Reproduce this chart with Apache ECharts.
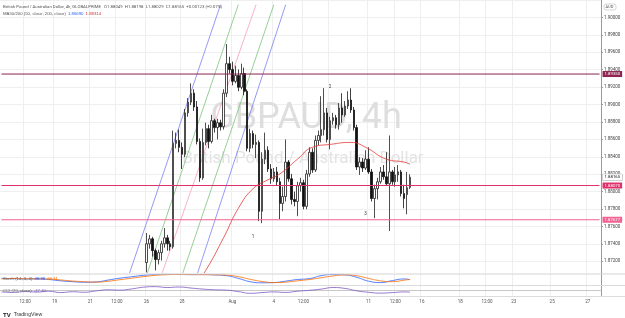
<!DOCTYPE html>
<html>
<head>
<meta charset="utf-8">
<script src="https://cdn.jsdelivr.net/npm/echarts@6/dist/echarts.min.js"></script>
<style>
  html, body { margin: 0; padding: 0; background: #fff; }
  #chart { width: 625px; height: 318px; }
</style>
</head>
<body>
<div id="chart"></div>
<script>
const barCount = 203;
const firstBar = 49;

// [open, close, low, high]
const candles = [
  [1.87186, 1.87401, 1.87073, 1.87525], [1.87401, 1.87458, 1.87345, 1.87503],
  [1.87458, 1.87322, 1.87254, 1.87480], [1.87322, 1.87220, 1.87096, 1.87345],
  [1.87220, 1.87299, 1.87164, 1.87333], [1.87299, 1.87401, 1.87209, 1.87435],
  [1.87401, 1.87469, 1.87356, 1.87582], [1.87469, 1.87401, 1.87322, 1.87503],
  [1.87401, 1.87367, 1.87322, 1.87435], [1.87367, 1.88554, 1.87345, 1.88701],
  [1.88554, 1.88588, 1.88497, 1.88678], [1.88588, 1.88509, 1.88452, 1.88712],
  [1.88509, 1.88429, 1.88260, 1.88565], [1.88429, 1.88904, 1.88396, 1.88949],
  [1.88904, 1.89028, 1.88859, 1.89074], [1.89028, 1.89130, 1.88994, 1.89243],
  [1.89130, 1.88972, 1.88927, 1.89175], [1.88972, 1.88576, 1.88542, 1.89040],
  [1.88576, 1.88158, 1.88113, 1.88610], [1.88158, 1.88565, 1.88136, 1.88723],
  [1.88565, 1.88723, 1.88531, 1.88791], [1.88723, 1.88576, 1.88497, 1.88768],
  [1.88576, 1.88814, 1.88554, 1.88881], [1.88814, 1.88735, 1.88678, 1.88836],
  [1.88735, 1.88791, 1.88599, 1.88836], [1.88791, 1.88746, 1.88701, 1.88825],
  [1.88746, 1.89130, 1.88712, 1.89175], [1.89130, 1.89469, 1.89085, 1.89695],
  [1.89469, 1.89401, 1.89356, 1.89548], [1.89401, 1.89266, 1.89220, 1.89492],
  [1.89266, 1.89333, 1.89243, 1.89446], [1.89333, 1.89198, 1.89153, 1.89401],
  [1.89198, 1.89356, 1.89175, 1.89469], [1.89356, 1.89153, 1.89107, 1.89424],
  [1.89153, 1.88497, 1.88463, 1.89175], [1.88497, 1.88667, 1.88452, 1.88723],
  [1.88667, 1.88542, 1.88497, 1.88701], [1.88542, 1.88565, 1.88384, 1.88655],
  [1.88565, 1.87774, 1.87661, 1.88588], [1.87774, 1.88373, 1.87638, 1.88452],
  [1.88373, 1.88475, 1.88316, 1.88678], [1.88475, 1.88260, 1.88226, 1.88520],
  [1.88260, 1.88147, 1.88090, 1.88316], [1.88147, 1.88226, 1.88113, 1.88271],
  [1.88226, 1.88113, 1.88068, 1.88283], [1.88113, 1.87864, 1.87684, 1.88158],
  [1.87864, 1.87944, 1.87774, 1.88057], [1.87944, 1.88339, 1.87887, 1.88599],
  [1.88339, 1.88147, 1.88113, 1.88362], [1.88147, 1.87910, 1.87853, 1.88203],
  [1.87910, 1.87887, 1.87831, 1.88000], [1.87887, 1.88068, 1.87718, 1.88113],
  [1.88068, 1.88102, 1.88000, 1.88158], [1.88102, 1.87831, 1.87797, 1.88136],
  [1.87831, 1.88203, 1.87797, 1.88249], [1.88203, 1.88452, 1.88170, 1.88509],
  [1.88452, 1.88249, 1.88215, 1.88497], [1.88249, 1.88588, 1.88226, 1.88644],
  [1.88588, 1.88644, 1.88531, 1.88701], [1.88644, 1.88712, 1.88565, 1.89096],
  [1.88712, 1.88904, 1.88644, 1.89187], [1.88904, 1.88599, 1.88565, 1.88961],
  [1.88599, 1.88814, 1.88486, 1.88859], [1.88814, 1.88848, 1.88768, 1.88904],
  [1.88848, 1.88768, 1.88723, 1.88881], [1.88768, 1.88961, 1.88712, 1.89017],
  [1.88961, 1.88881, 1.88791, 1.89130], [1.88881, 1.88983, 1.88859, 1.89040],
  [1.88983, 1.89051, 1.88949, 1.89153], [1.89051, 1.88938, 1.88904, 1.89187],
  [1.88938, 1.88735, 1.88701, 1.88972], [1.88735, 1.88283, 1.88249, 1.88768],
  [1.88283, 1.88339, 1.88192, 1.88396], [1.88339, 1.88271, 1.88226, 1.88384],
  [1.88271, 1.88373, 1.88249, 1.88475], [1.88373, 1.88226, 1.88203, 1.88509],
  [1.88226, 1.87921, 1.87887, 1.88260], [1.87921, 1.88034, 1.87695, 1.88079],
  [1.88034, 1.88113, 1.87910, 1.88158], [1.88113, 1.88226, 1.88090, 1.88283],
  [1.88226, 1.88170, 1.88136, 1.88305], [1.88170, 1.88090, 1.88068, 1.88452],
  [1.88090, 1.88226, 1.87548, 1.88644], [1.88226, 1.88113, 1.88079, 1.88249],
  [1.88113, 1.88192, 1.88057, 1.88283], [1.88192, 1.88226, 1.88113, 1.88305],
  [1.88226, 1.87977, 1.87944, 1.88249], [1.87977, 1.87921, 1.87808, 1.88079],
  [1.87966, 1.88045, 1.87740, 1.88226], [1.88049, 1.88165, 1.88029, 1.88198]
];

// MA50 read at a few bars: [bar, value]
const ma50 = [
  [64, 1.8685], [69, 1.87096], [75, 1.87469], [80, 1.87808], [85, 1.88034],
  [90, 1.88136], [94, 1.88203], [100, 1.88373], [105, 1.88509], [111, 1.88542],
  [118, 1.88565], [123, 1.88509], [130, 1.88373], [136, 1.88339], [138, 1.88314]
];

// drawn channel lines: [[bar, price], [bar, price]]
const trendLines = [
  { color: '#7c7ff2', pts: [[42.7, 1.87040], [73.8, 1.90147]] },
  { color: '#7cc47f', pts: [[48.8, 1.87040], [79.9, 1.90147]] },
  { color: '#f5a0bd', pts: [[53.5, 1.87040], [86.3, 1.90147]] },
  { color: '#7cc47f', pts: [[61.3, 1.87040], [92.4, 1.90147]] },
  { color: '#7c7ff2', pts: [[66.0, 1.87040], [96.4, 1.90147]] }
];

// horizontal levels
const levelValues = [1.89350, 1.88070, 1.87677];
const levelColors = ['#8e2451', '#e0306a', '#f06292'];
const lastPrice = 1.88165;

// wave count labels: [bar, price]
const waveMarks = [
  { name: '1', coord: [85, 1.87480] },
  { name: '2', coord: [111, 1.89198] },
  { name: '3', coord: [123, 1.87740] }
];

// Stochastic %K / %D and CCI at every 4th bar: [bar, value]
const stochK = [
  [0, 60], [4, 58], [8, 55], [12, 57], [16, 50], [20, 38], [24, 30], [28, 25], [32, 28],
  [36, 45], [40, 62], [44, 75], [48, 88], [52, 95], [56, 97], [60, 96], [64, 94], [68, 95],
  [72, 92], [76, 85], [80, 60], [84, 30], [88, 20], [92, 22], [96, 35], [100, 50], [104, 58],
  [108, 85], [112, 95], [116, 92], [120, 70], [124, 35], [128, 22], [132, 40], [136, 55], [138, 48.88]
];
const stochD = [
  [0, 55], [4, 60], [8, 57], [12, 55], [16, 55], [20, 46], [24, 36], [28, 30], [32, 26],
  [36, 34], [40, 48], [44, 62], [48, 76], [52, 88], [56, 94], [60, 96], [64, 95], [68, 94],
  [72, 93], [76, 90], [80, 76], [84, 52], [88, 32], [92, 22], [96, 26], [100, 38], [104, 50],
  [108, 66], [112, 82], [116, 92], [120, 84], [124, 60], [128, 38], [132, 30], [136, 44], [138, 50.11]
];
const cci = [
  [0, -40], [4, -55], [8, -30], [12, -45], [16, -20], [20, -60], [24, -35], [28, -50], [32, -10],
  [36, 20], [40, 10], [44, 45], [48, 95], [52, 110], [56, 85], [60, 100], [64, 70], [68, 40],
  [72, 20], [76, 10], [80, -30], [84, -80], [88, -60], [92, -40], [96, -55], [100, -20], [104, 5],
  [108, 40], [112, 85], [116, 60], [120, -10], [124, -50], [128, -75], [132, -60], [136, -40], [138, -47.4]
];

// time axis labels
const labelBars = [8, 18, 30, 39, 49, 61, 78, 92, 102, 111, 124, 133, 142, 155, 164, 173, 186, 198];
const labelText = ['12:00', '19', '21', '12:00', '26', '28', 'Aug', '4', '12:00', '9', '11', '12:00', '16', '18', '12:00', '23', '25', '27'];

const slots = Array.from({ length: barCount }, (_, i) => String(i));
const candleData = slots.map((_, i) => {
  const c = candles[i - firstBar];
  return c ? c : '-';
});
const isLabel = (i) => labelBars.indexOf(i) >= 0;

const font = 'Roboto, "DejaVu Sans", sans-serif';
const gridColor = '#efefef';
const plotRight = 601;

const chart = echarts.init(document.getElementById('chart'), null, { renderer: 'canvas' });

const paneX = (gi, showLabels) => ({
  type: 'category', gridIndex: gi, data: slots, boundaryGap: true, z: 60,
  axisLine: { show: showLabels, lineStyle: { color: '#c8c8c8', width: 1 } },
  axisTick: { show: false },
  axisLabel: {
    show: showLabels, interval: (i) => isLabel(i), margin: 3,
    fontSize: 4.5, color: '#555', fontFamily: font,
    formatter: (v) => labelText[labelBars.indexOf(Number(v))] || ''
  },
  splitLine: { show: true, interval: (i) => isLabel(i), lineStyle: { color: gridColor, width: 1 } }
});

const priceTag = (value, bg, fg, border) => ({
  show: true, distance: 3, formatter: value.toFixed(5),
  backgroundColor: bg, color: fg, borderColor: border || bg, borderWidth: border ? 0.5 : 0,
  fontSize: 4.3, fontFamily: font, padding: [1, 2, 1, 2]
});

// a flat line across the whole plot carrying a price tag on the axis
const levelSeries = (value, color) => ({
  type: 'line', xAxisIndex: 0, yAxisIndex: 0, symbol: 'none', z: 5, clip: false, silent: true,
  data: [[0, value], [barCount - 1, value]],
  lineStyle: { color: color, width: 1 },
  itemStyle: { color: color },
  endLabel: priceTag(value, color, '#fff')
});

chart.setOption({
  animation: false,
  backgroundColor: '#ffffff',
  grid: [
    { left: 0, right: 625 - plotRight, top: -4.714, height: 283.43 },
    { left: 0, right: 625 - plotRight, top: 274, height: 11 },
    { left: 0, right: 625 - plotRight, top: 285, height: 11 }
  ],
  xAxis: [
    Object.assign(paneX(0, false), { z: 0 }),
    paneX(1, false),
    paneX(2, true)
  ],
  yAxis: [
    {
      type: 'value', gridIndex: 0, position: 'right', min: 1.870, max: 1.902, interval: 0.002,
      axisLine: { show: true, lineStyle: { color: '#9a9a9a' } },
      axisTick: { show: true, length: 2, lineStyle: { color: '#9a9a9a' } },
      axisLabel: {
        showMinLabel: false, showMaxLabel: false, margin: 3, fontSize: 4.5,
        color: '#444', fontFamily: font, formatter: (v) => v.toFixed(5)
      },
      splitLine: { lineStyle: { color: gridColor } }
    },
    {
      type: 'value', gridIndex: 1, position: 'right', min: 0, max: 100, z: 60,
      axisLine: { show: true, lineStyle: { color: '#9a9a9a' } },
      axisTick: { show: false }, axisLabel: { show: false }, splitLine: { show: false }
    },
    {
      type: 'value', gridIndex: 2, position: 'right', min: -157, max: 157, z: 60,
      axisLine: { show: true, lineStyle: { color: '#9a9a9a' } },
      axisTick: { show: false }, axisLabel: { show: false }, splitLine: { show: false }
    }
  ],
  graphic: [
    { type: 'text', z: 1, x: 306, y: 101, silent: true,
      style: { text: 'GBPAUD, 4h', align: 'center', verticalAlign: 'top', fontSize: 36, fontFamily: font, fill: '#dedede' } },
    { type: 'text', z: 1, x: 303, y: 150, silent: true,
      style: { text: 'British Pound / Australian Dollar', align: 'center', verticalAlign: 'top', fontSize: 17, fontFamily: font, fill: '#e3e3e3' } },
    { type: 'text', z: 70, left: 3, top: 5,
      style: { text: 'British Pound / Australian Dollar, 4h, GLOBALPRIME   O1.88049  H1.88198  L1.88029  C1.88165  +0.00123 (+0.07%)',
        fontSize: 4.3, fontFamily: font, fill: '#555' } },
    { type: 'text', z: 70, left: 3, top: 12,
      style: { text: '{a|MA50/200 (50, close, 200, close)}  {b|1.86690}  {c|1.88314}',
        fontSize: 4.3, fontFamily: font,
        rich: { a: { fill: '#555', fontSize: 4.3 }, b: { fill: '#2962ff', fontSize: 4.3 }, c: { fill: '#d32f2f', fontSize: 4.3 } } } },
    { type: 'rect', z: 70, shape: { x: 604, y: 4, width: 12, height: 6, r: 2 },
      style: { fill: '#fff', stroke: '#bbb', lineWidth: 0.6 } },
    { type: 'text', z: 71, left: 605.5, top: 5.2, style: { text: 'AUD', fontSize: 4, fontFamily: font, fill: '#555' } },
    { type: 'rect', z: 50, shape: { x: 0, y: 273, width: plotRight, height: 45 }, style: { fill: '#fff' } },
    { type: 'line', z: 65, shape: { x1: 0, y1: 274, x2: 625, y2: 274 }, style: { stroke: '#d4d4d4', lineWidth: 1.2 } },
    { type: 'line', z: 65, shape: { x1: 0, y1: 285.5, x2: 625, y2: 285.5 }, style: { stroke: '#dcdcdc', lineWidth: 1 } },
    { type: 'line', z: 65, shape: { x1: 0, y1: 296.5, x2: 625, y2: 296.5 }, style: { stroke: '#dcdcdc', lineWidth: 1 } },
    { type: 'text', z: 70, left: 3, top: 277,
      style: { text: '{a|Stoch (14, 3, 3)}  {b|48.88}  {c|50.11}', fontSize: 4.3, fontFamily: font,
        rich: { a: { fill: '#666', fontSize: 4.3 }, b: { fill: '#2962ff', fontSize: 4.3 }, c: { fill: '#ff6d00', fontSize: 4.3 } } } },
    { type: 'text', z: 70, left: 3, top: 288.5,
      style: { text: '{a|CCI (20, close)}  {b|-47.40}', fontSize: 4.3, fontFamily: font,
        rich: { a: { fill: '#666', fontSize: 4.3 }, b: { fill: '#7e57c2', fontSize: 4.3 } } } },
    { type: 'text', z: 70, left: 3, top: 309,
      style: { text: '{a|TV} {b|TradingView}', fontFamily: font,
        rich: { a: { fill: '#131722', fontSize: 6, fontWeight: 'bold' }, b: { fill: '#333', fontSize: 5.2 } } } }
  ],
  series: [
    {
      type: 'candlestick', xAxisIndex: 0, yAxisIndex: 0, data: candleData, barWidth: '68%', z: 3,
      itemStyle: { color: '#ffffff', color0: '#111111', borderColor: '#222222', borderColor0: '#111111', borderWidth: 0.8 },
      markPoint: {
        symbol: 'circle', symbolSize: 0,
        data: waveMarks.map((m) => ({
          name: m.name, coord: m.coord,
          label: { show: true, formatter: m.name, position: 'inside', fontSize: 4.5, color: '#333', fontFamily: font }
        })).concat([{
          name: 'last', coord: [barCount - 1, lastPrice],
          label: Object.assign(priceTag(lastPrice, '#ffffff', '#222', '#aaa'), { position: 'right', distance: 3 })
        }])
      }
    },
    {
      type: 'line', xAxisIndex: 0, yAxisIndex: 0, data: ma50, symbol: 'none', smooth: true, z: 4,
      lineStyle: { color: '#e53935', width: 0.8 }
    }
  ].concat(levelValues.map((v, k) => levelSeries(v, levelColors[k])))
  .concat(trendLines.map((t) => ({
    type: 'line', xAxisIndex: 0, yAxisIndex: 0, data: t.pts, symbol: 'none', z: 2, clip: true,
    lineStyle: { color: t.color, width: 0.8 }
  }))).concat([
    {
      type: 'line', xAxisIndex: 1, yAxisIndex: 1, data: stochK, symbol: 'none', smooth: true, z: 62,
      lineStyle: { color: '#2962ff', width: 0.8 },
      markArea: { silent: true, itemStyle: { color: 'rgba(126, 87, 194, 0.22)' }, data: [[{ yAxis: 20 }, { yAxis: 80 }]] },
      markLine: { silent: true, symbol: 'none', label: { show: false },
        lineStyle: { color: '#9a8fb0', type: [2, 2], width: 0.7 }, data: [{ yAxis: 20 }, { yAxis: 80 }] }
    },
    {
      type: 'line', xAxisIndex: 1, yAxisIndex: 1, data: stochD, symbol: 'none', smooth: true, z: 62,
      lineStyle: { color: '#ff6d00', width: 0.8 }
    },
    {
      type: 'line', xAxisIndex: 2, yAxisIndex: 2, data: cci, symbol: 'none', smooth: true, z: 62,
      lineStyle: { color: '#7e57c2', width: 0.8 },
      markArea: { silent: true, itemStyle: { color: 'rgba(126, 87, 194, 0.1)' }, data: [[{ yAxis: -100 }, { yAxis: 100 }]] },
      markLine: { silent: true, symbol: 'none', label: { show: false },
        lineStyle: { color: '#9a8fb0', type: [2, 2], width: 0.7 }, data: [{ yAxis: -100 }, { yAxis: 100 }] }
    }
  ])
});
</script>
</body>
</html>
